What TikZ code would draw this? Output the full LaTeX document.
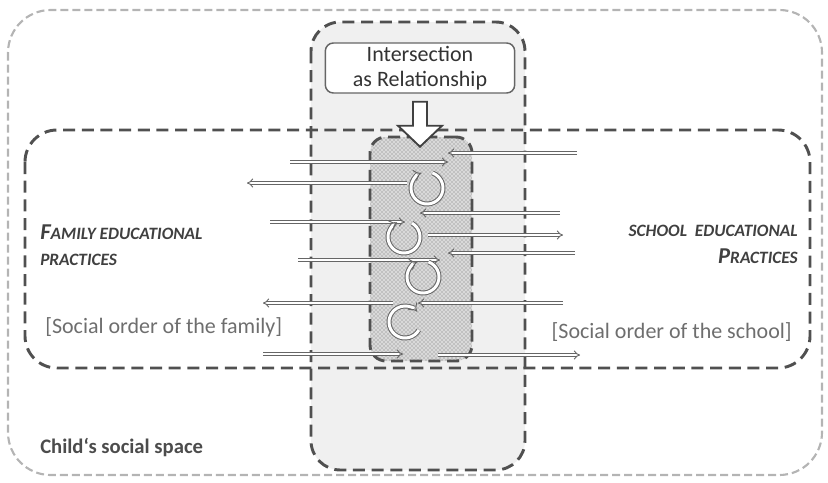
\documentclass[tikz,border=0pt]{standalone}
\usepackage{fontspec}
\setmainfont{Carlito}
\usetikzlibrary{arrows.meta,patterns}

\definecolor{dashgray}{HTML}{505050}
\definecolor{lightdash}{HTML}{B4B4B4}
\definecolor{colfill}{HTML}{F0F0F0}
\definecolor{textgray}{HTML}{404040}
\definecolor{ordergray}{HTML}{6E6E6E}

% fake small caps for Carlito
\newcommand{\capbig}[1]{{\fontsize{17}{20}\selectfont #1}}
\newcommand{\capsmall}[1]{{\fontsize{13}{16}\selectfont #1}}

\tikzset{
  spacebox/.style={lightdash, line width=1.6pt, dash pattern=on 6pt off 3pt},
  fieldbox/.style={draw=dashgray, line width=2.2pt, dash pattern=on 9pt off 5pt},
  flow/.style={draw=black!60, line width=0.7pt, double=white, double distance=1.6pt, -{Implies}},
  turn/.style={draw=black!60, line width=0.75pt, double=white, double distance=2.2pt, -{Implies}},
  practice/.style={inner sep=0pt, textgray, font=\bfseries\itshape},
  order/.style={inner sep=0pt, ordergray, font=\fontsize{16.5}{20}\selectfont},
}

\begin{document}
\begin{tikzpicture}[x=0.75pt,y=-0.75pt]
  \useasboundingbox (0,0) rectangle (828,482);
  % child's social space
  \draw[spacebox, rounded corners=32pt] (8,10) rectangle (822,475);
  % column of the intersection
  \draw[fieldbox, fill=colfill, rounded corners=22pt] (311,22) rectangle (525,470);
  % family / school band
  \draw[fieldbox, rounded corners=24pt] (25,130) rectangle (810,368);
  % intersection (stippled)
  \node[fieldbox, minimum width=76.5pt, minimum height=168pt, rounded corners=12pt,
        preaction={fill=gray!30}, pattern=crosshatch dots, pattern color=black!55] (inter) at (421,249) {};
  % label box
  \node[draw=black!60, line width=1.1pt, fill=white, rounded corners=6pt, align=center,
        minimum width=142pt, minimum height=37.5pt, inner sep=1pt, text=black!80,
        font=\fontsize{16.5}{19}\selectfont] (rel) at (420,68) {Intersection\\as Relationship};
  % hollow arrow down
  \draw[draw=black!75, fill=white, line width=1.4pt, line join=miter]
    (rel.south) ++(-7,8) -- ++(14,0) -- ++(0,24) -- ++(15,0) -- ++(-22,21)
    -- ++(-22,-21) -- ++(15,0) -- cycle;
  % flows between the two practices
  \foreach \y/\a/\b in {162/290/448, 153/577/448, 183/407/247, 222/270/405,
      213/560/420, 235/428/563, 253/575/448, 260/298/440, 303/563/418,
      303/393/263, 354/263/403, 355/438/580}
    \draw[flow] (\a,\y) -- (\b,\y);
  % circular arrows
  \foreach \cx/\cy/\s/\e in {427/188/-70/250, 404/237/-60/245, 423/277/-70/250, 405/322/30/320}
    \draw[turn] ([shift={(\s:16)}]\cx,\cy) arc[start angle=\s, end angle=\e, radius=16];
  % texts
  \node[practice, anchor=base west] (family) at (40,239) {\capbig{F}\capsmall{AMILY EDUCATIONAL}};
  \node[practice, anchor=base west] (familyb) at (40,265) {\capsmall{PRACTICES}};
  \node[practice, anchor=base east] (school) at (798,236) {\capsmall{SCHOOL\ \ EDUCATIONAL}};
  \node[practice, anchor=base east] (schoolb) at (798,263) {\capbig{P}\capsmall{RACTICES}};
  \node[order, anchor=base west] (forder) at (45,333) {[Social order of the family]};
  \node[order, anchor=base east] (sorder) at (792,338) {[Social order of the school]};
  \node[inner sep=0pt, anchor=base west, text=black!70, font=\bfseries\fontsize{15.5}{18}\selectfont] (child) at (40,453) {Child‘s social space};
\end{tikzpicture}
\end{document}
